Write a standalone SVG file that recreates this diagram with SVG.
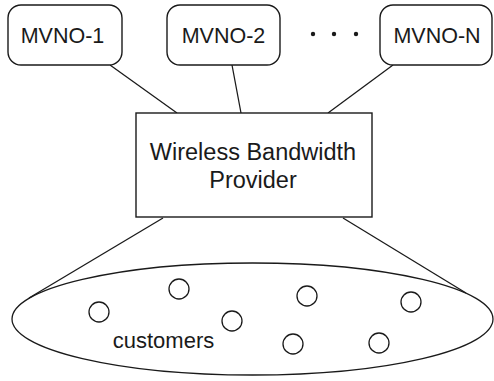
<svg xmlns="http://www.w3.org/2000/svg" width="494" height="381" viewBox="0 0 494 381">
  <style>
    .box { fill: #fff; stroke: #1a1a1a; stroke-width: 1.4; }
    .link { stroke: #1a1a1a; stroke-width: 1.3; fill: none; }
    .cust { fill: none; stroke: #1a1a1a; stroke-width: 1.3; }
    .lbl { font-family: "Liberation Sans", Arial, sans-serif; fill: #1a1a1a; text-anchor: middle; }
  </style>
  <rect width="494" height="381" fill="#fff"/>

  <!-- connectors -->
  <g id="connectors">
    <line class="link" x1="110" y1="65" x2="177" y2="113"/>
    <line class="link" x1="232" y1="65" x2="241" y2="113"/>
    <line class="link" x1="393" y1="65" x2="328" y2="113"/>
    <line class="link" x1="163" y1="218" x2="29" y2="298"/>
    <line class="link" x1="343" y1="218" x2="466" y2="293"/>
  </g>

  <g id="mvno-1">
    <rect class="box" x="8" y="5" width="114" height="60" rx="13"/>
    <text class="lbl" x="62.5" y="43" font-size="21.5">MVNO-1</text>
  </g>
  <g id="mvno-2">
    <rect class="box" x="167" y="5" width="113" height="60" rx="13"/>
    <text class="lbl" x="223.5" y="43" font-size="21.5">MVNO-2</text>
  </g>
  <g id="ellipsis">
    <circle cx="313" cy="34" r="2.2" fill="#1a1a1a"/>
    <circle cx="334" cy="34" r="2.2" fill="#1a1a1a"/>
    <circle cx="356" cy="34" r="2.2" fill="#1a1a1a"/>
  </g>
  <g id="mvno-n">
    <rect class="box" x="380" y="5" width="112" height="60" rx="13"/>
    <text class="lbl" x="437" y="43" font-size="21.5">MVNO-N</text>
  </g>

  <g id="provider">
    <rect class="box" x="136" y="113" width="236" height="104"/>
    <text class="lbl" x="253" y="160" font-size="23.5">Wireless Bandwidth</text>
    <text class="lbl" x="253" y="188" font-size="23.5">Provider</text>
  </g>

  <g id="customers">
    <ellipse class="link" cx="252.5" cy="319" rx="240.5" ry="56"/>
    <circle class="cust" cx="99" cy="312" r="10"/>
    <circle class="cust" cx="179" cy="289" r="10"/>
    <circle class="cust" cx="232" cy="321" r="10"/>
    <circle class="cust" cx="307" cy="296" r="10"/>
    <circle class="cust" cx="411" cy="302" r="10"/>
    <circle class="cust" cx="293" cy="344" r="10"/>
    <circle class="cust" cx="379" cy="343" r="10"/>
    <text class="lbl" x="163.5" y="348" font-size="22">customers</text>
  </g>
</svg>
